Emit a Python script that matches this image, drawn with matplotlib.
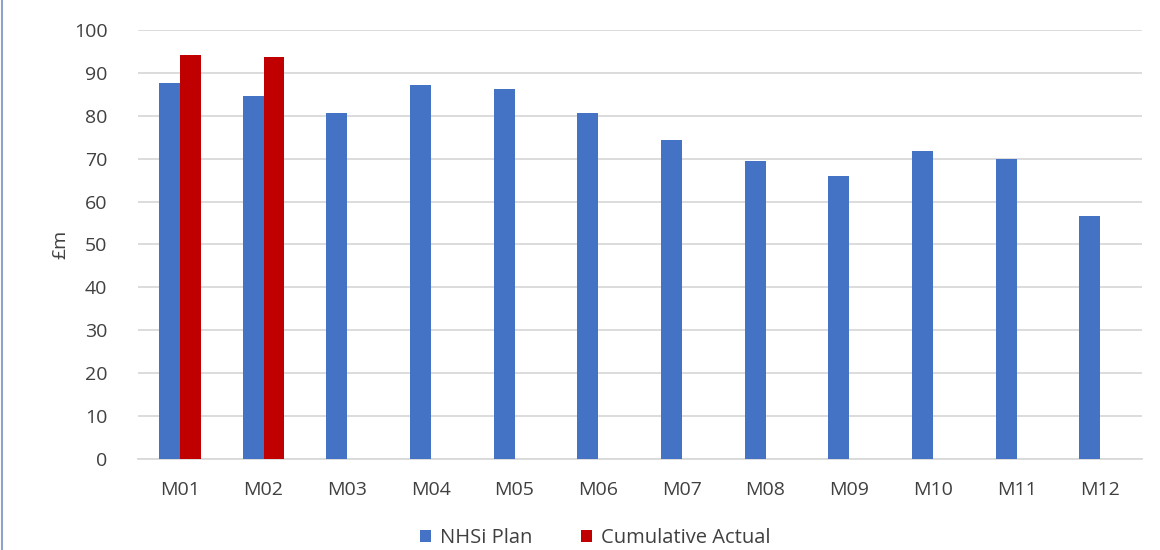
import matplotlib
matplotlib.use("Agg")
import matplotlib.pyplot as plt
from matplotlib.lines import Line2D
import numpy as np

months = ["M01", "M02", "M03", "M04", "M05", "M06",
          "M07", "M08", "M09", "M10", "M11", "M12"]
nhsi_plan = [87.6, 84.5, 80.6, 87.2, 86.2, 80.6, 74.4, 69.5, 66.0, 71.7, 69.9, 56.6]
cumulative_actual = [94.2, 93.8]

series_labels = ["NHSi Plan", "Cumulative Actual"]
y_ticks = list(range(0, 101, 10))

blue = "#4472c4"
red = "#c00000"
grid_col = "#d9d9d9"
text_col = "#404040"

plt.rcParams["font.family"] = ["Open Sans", "DejaVu Sans"]

fig = plt.figure(figsize=(11.6, 5.5), dpi=100)
ax = fig.add_axes([0.119, 0.1655, 0.8655, 0.78])

x = np.arange(len(months))
w = 0.25
ax.bar(x - w / 2, nhsi_plan, width=w, color=blue, label=series_labels[0], zorder=3)
ax.bar(x[:len(cumulative_actual)] + w / 2, cumulative_actual, width=w, color=red,
       label=series_labels[1], zorder=3)

ax.set_xlim(-0.5, len(months) - 0.5)
ax.set_ylim(0, 100)
ax.set_yticks(y_ticks)
ax.set_xticks(x)
ax.set_xticklabels(months)
ax.tick_params(axis="both", length=0, labelsize=14, colors=text_col)
ax.tick_params(axis="y", pad=22)
ax.tick_params(axis="x", pad=16)
ax.yaxis.grid(True, color=grid_col, linewidth=1.3, zorder=0)
for side in ["top", "right", "left"]:
    ax.spines[side].set_visible(False)
ax.spines["bottom"].set_color(grid_col)
ax.spines["bottom"].set_linewidth(1.3)
ax.set_ylabel("£m", fontsize=14, color=text_col, labelpad=3)

fig.legend(loc="center", bbox_to_anchor=(0.513, 0.022), ncol=2, frameon=False,
           fontsize=14.5, handlelength=0.55, handleheight=0.55, handletextpad=0.45,
           columnspacing=2.4, labelcolor=text_col)

fig.add_artist(Line2D([0.002, 0.002], [0, 1], transform=fig.transFigure,
                      color="#8ea2cc", linewidth=1.5))

fig.savefig("out.png", dpi=100)
